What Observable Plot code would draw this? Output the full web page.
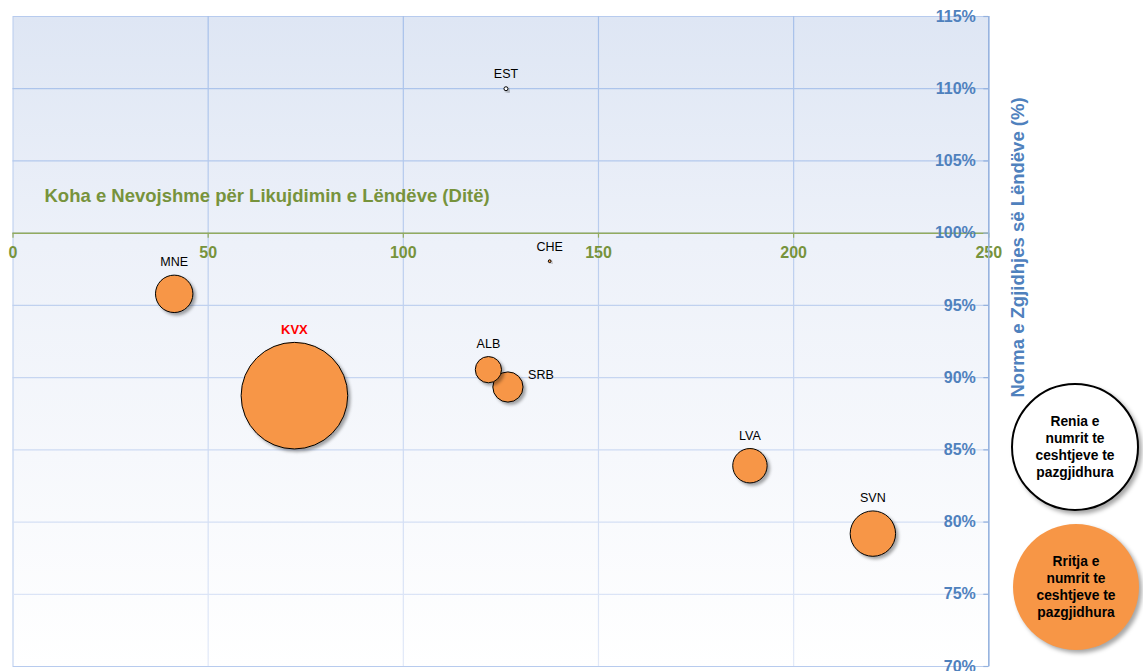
<!DOCTYPE html>
<html>
<head>
<meta charset="utf-8">
<script src="https://cdn.jsdelivr.net/npm/d3@7"></script>
<script src="https://cdn.jsdelivr.net/npm/@observablehq/plot@0.6"></script>
<style>
  html, body { margin: 0; padding: 0; background: #fff; overflow: hidden; }
  #chart { position: relative; width: 1143px; height: 671px; font-family: "Liberation Sans", Arial, sans-serif; }
  .legend-bubble {
    position: absolute; border-radius: 50%; box-sizing: border-box;
    display: flex; align-items: center; justify-content: center; text-align: center;
    font-weight: bold; font-size: 13.8px; line-height: 17px; color: #000;
    box-shadow: 3px 3px 4px rgba(0,0,0,0.35);
  }
</style>
</head>
<body>
<div id="chart"></div>
<script>
// Countries and their indicators
const countries     = ["EST", "CHE", "MNE", "KVX", "ALB", "SRB", "LVA", "SVN"];
const clearanceDays = [126.3, 137.5, 41.3, 72.1, 121.8, 126.8, 188.8, 220.3];   // Koha e nevojshme për likujdim (ditë)
const clearanceRate = [110.0, 98.06, 95.8, 88.75, 90.55, 89.35, 83.9, 79.2];   // Norma e zgjidhjes (%)
const backlogChange = [-4, 2, 350, 2841, 172, 228, 296, 515];                  // ndryshimi i numrit të çështjeve të pazgjidhura
const highlighted   = "KVX";

const xTicks = [0, 50, 100, 150, 200, 250];
const yTicks = [70, 75, 80, 85, 90, 95, 100, 105, 110, 115];

const xTitle = "Koha e Nevojshme për Likujdimin e Lëndëve (Ditë)";
const yTitle = "Norma e Zgjidhjes së Lëndëve (%)";
const legendDown = "Renia e\nnumrit te\nceshtjeve te\npazgjidhura";
const legendUp   = "Rritja e\nnumrit te\nceshtjeve te\npazgjidhura";

const data = countries.map((c, i) => ({
  country: c,
  days: clearanceDays[i],
  rate: clearanceRate[i],
  change: backlogChange[i]
}));

const maxChange = d3.max(backlogChange, Math.abs);
const maxRadius = 53.3;
const radius = d3.scaleSqrt().domain([0, maxChange]).range([0, maxRadius]);

const orange = "#F79646";
const green = "#77933C";
const blue = "#4F81BD";

// Country labels sit above their bubble (SRB to its right)
const labelMarks = data.map(d => {
  const r = radius(Math.abs(d.change));
  const side = d.country === "SRB";
  return Plot.text([d], {
    x: "days", y: "rate", text: "country",
    dx: side ? 33 : 0,
    dy: side ? -12.5 : -(r + 13),
    fill: d.country === highlighted ? "#FF0000" : "#000",
    fontWeight: d.country === highlighted ? "bold" : "normal",
    fontSize: d.country === highlighted ? 13 : 12.5
  });
});

const plot = Plot.plot({
  width: 1143,
  height: 671,
  marginLeft: 12.5,
  marginRight: 154.7,
  marginTop: 16,
  marginBottom: 5,
  style: { fontFamily: "'Liberation Sans', Arial, sans-serif", background: "transparent", overflow: "visible" },
  x: { domain: [0, 250], axis: null },
  y: { domain: [70, 115], axis: null },
  r: { type: "sqrt", domain: [0, maxChange], range: [0, maxRadius] },
  marks: [
    Plot.frame({ fill: "url(#plotBg)", stroke: "#B7CBEE", strokeWidth: 1 }),
    // grid
    Plot.ruleX(xTicks.slice(1, -1), { x: d => d, stroke: "url(#gridFade)", strokeWidth: 1.2 }),
    Plot.ruleY(yTicks.slice(1, -1), { y: d => d, stroke: "url(#gridFade)", strokeWidth: 1.2 }),
    // horizontal axis along 100%
    Plot.ruleY([100], { y: d => d, stroke: "#93AB5F", strokeWidth: 1.5 }),
    Plot.ruleX(xTicks, { x: d => d, y1: 100, y2: 100, insetBottom: -5, stroke: "#93AB5F", strokeWidth: 1.2 }),
    Plot.text(xTicks, { x: d => d, y: 100, text: d => String(d), dy: 20, fill: green, fontWeight: "bold", fontSize: 16 }),
    Plot.text([xTitle], { frameAnchor: "top-left", dx: 31.5, dy: 180, textAnchor: "start", lineAnchor: "middle", fill: green, fontWeight: "bold", fontSize: 18.5 }),
    // vertical axis on the right
    Plot.ruleX([250], { x: d => d, stroke: "#95B2DE", strokeWidth: 1.5 }),
    Plot.ruleY(yTicks, { y: d => d, x1: 250, x2: 250, insetLeft: -5, stroke: "#95B2DE", strokeWidth: 1.2 }),
    Plot.text(yTicks, { x: 250, y: d => d, text: d => d + "%", textAnchor: "end", dx: -13, fill: blue, fontWeight: "bold", fontSize: 16 }),
    Plot.text([yTitle], { frameAnchor: "top-right", dx: 29, dy: 231, rotate: -90, textAnchor: "middle", lineAnchor: "middle", fill: blue, fontWeight: "bold", fontSize: 18.5 }),
    // bubbles
    Plot.dot(data, {
      x: "days", y: "rate",
      r: d => Math.abs(d.change),
      fill: d => d.change < 0 ? "#FFFFFF" : orange,
      stroke: "#000", strokeWidth: 1
    }),
    ...labelMarks
  ]
});

const svg = d3.select(plot);
svg.insert("defs", ":first-child").html(`
  <linearGradient id="plotBg" x1="0" y1="0" x2="0" y2="1">
    <stop offset="0" stop-color="#DEE6F4"/>
    <stop offset="0.35" stop-color="#EDF1F9"/>
    <stop offset="1" stop-color="#FFFFFF"/>
  </linearGradient>
  <linearGradient id="gridFade" gradientUnits="userSpaceOnUse" x1="0" y1="16" x2="0" y2="666">
    <stop offset="0" stop-color="#A6C0EA"/>
    <stop offset="0.5" stop-color="#C3D3F0"/>
    <stop offset="1" stop-color="#E2E9F8"/>
  </linearGradient>
  <filter id="bubbleShadow" x="-30%" y="-30%" width="170%" height="170%">
    <feDropShadow dx="2.5" dy="2.5" stdDeviation="1.6" flood-color="#000" flood-opacity="0.35"/>
  </filter>
`);
svg.selectAll("g[aria-label=dot] circle").attr("filter", "url(#bubbleShadow)");

const chart = document.getElementById("chart");
chart.appendChild(plot);

// Legend: bubble colour meaning
function legendBubble(text, left, top, size, styles) {
  const el = document.createElement("div");
  el.className = "legend-bubble";
  el.style.left = left + "px";
  el.style.top = top + "px";
  el.style.width = size + "px";
  el.style.height = size + "px";
  Object.assign(el.style, styles);
  el.innerHTML = text.split("\n").join("<br>");
  chart.appendChild(el);
}
legendBubble(legendDown, 1011, 383, 128, { background: "#FFFFFF", border: "2px solid #000" });
legendBubble(legendUp, 1013, 524, 126, { background: orange });
</script>
</body>
</html>
